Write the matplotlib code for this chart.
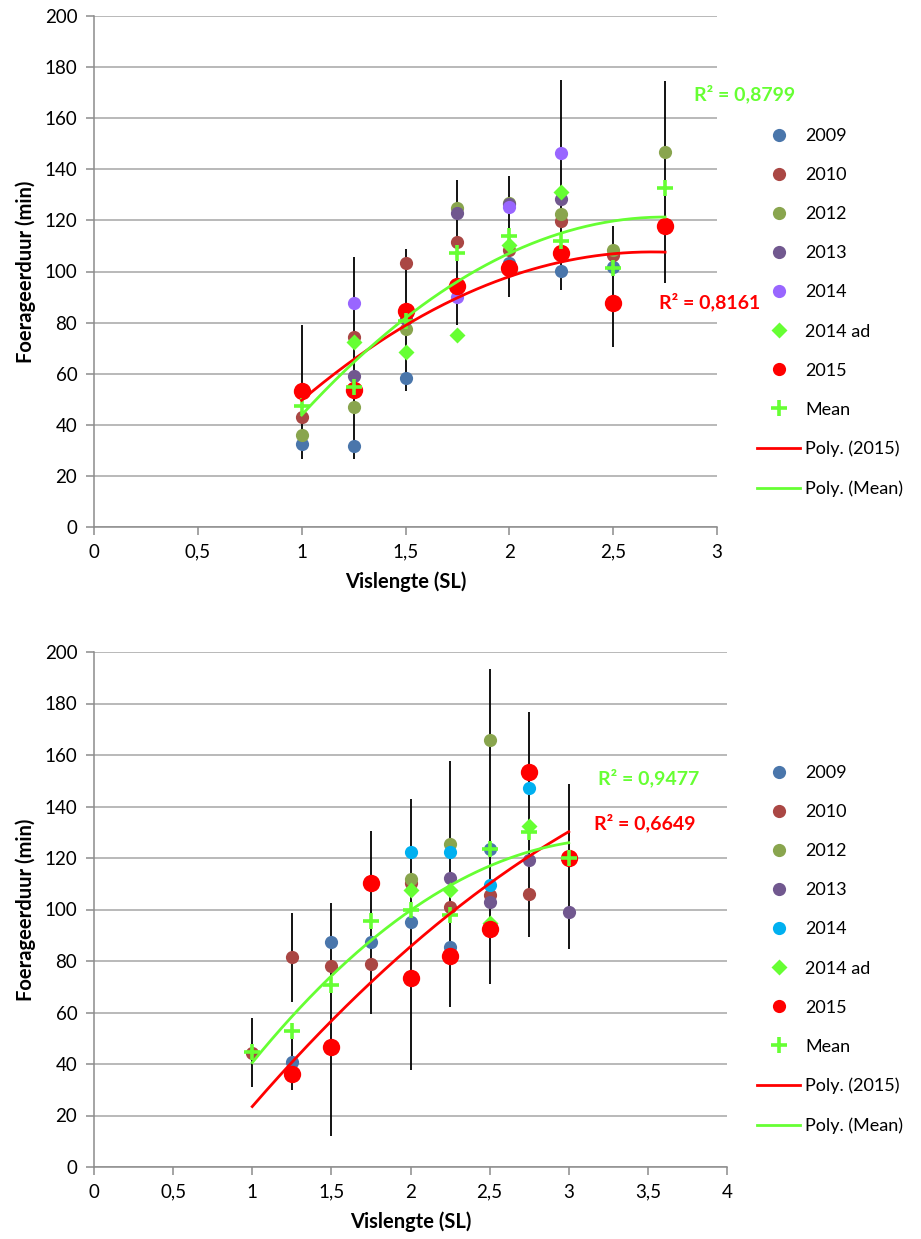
import numpy as np
import matplotlib
matplotlib.use("Agg")
import matplotlib.pyplot as plt
from matplotlib.lines import Line2D
from matplotlib.ticker import MultipleLocator, FuncFormatter

plt.rcParams['font.family'] = ['Lato', 'DejaVu Sans']

nan = np.nan

# upper panel: foraging time per fish length class
x_top = [1, 1.25, 1.5, 1.75, 2, 2.25, 2.5, 2.75]
top_2009 = [32.4, 31.8, 58.4, nan, 103.2, 100.2, 101.6, nan]
top_2010 = [43.2, 74.5, 103.5, 111.4, 108.4, 119.8, 106.5, nan]
top_2012 = [35.9, 46.8, 77.4, 124.7, 126.9, 122.4, 108.4, 146.9]
top_2013 = [nan, 59.0, 81.5, 122.8, 126.4, 128.3, nan, nan]
top_2014 = [nan, 87.8, nan, 89.9, 125.1, 146.3, nan, nan]
top_2014ad = [nan, 72.5, 68.6, 75.0, 110.4, 131.2, nan, nan]
top_2015 = [53.4, 53.6, 84.6, 94.5, 101.3, 107.1, 87.6, 117.9]
top_mean = [47.4, 54.7, 80.5, 107.1, 113.9, 111.9, 101.2, 132.6]
top_err_x = [1, 1.25, 1.5, 1.75, 2, 2.25, 2.5, 2.75]
top_err_lo = [26.5, 26.5, 53.3, 79.0, 90.1, 92.8, 70.4, 95.6]
top_err_hi = [79.0, 105.5, 109.0, 136.0, 137.4, 175.0, 117.8, 174.7]
top_r2_2015 = "R² = 0,8161"
top_r2_mean = "R² = 0,8799"

# lower panel
x_bot = [1, 1.25, 1.5, 1.75, 2, 2.25, 2.5, 2.75, 3]
bot_2009 = [nan, 40.9, 87.3, 87.3, 95.3, 85.6, 123.5, nan, nan]
bot_2010 = [44.4, 81.4, 78.1, 78.8, 110.4, 100.8, 105.6, 106.0, nan]
bot_2012 = [nan, nan, nan, nan, 111.8, 125.3, 165.8, nan, nan]
bot_2013 = [nan, nan, nan, nan, nan, 112.1, 102.8, 119.2, 99.1]
bot_2014 = [nan, nan, nan, nan, 122.5, 122.5, 109.5, 147.3, nan]
bot_2014ad = [nan, nan, nan, nan, 107.6, 107.6, 94.6, 132.5, nan]
bot_2015 = [nan, 36.1, 46.7, 110.4, 73.3, 81.9, 92.3, 153.5, 119.9]
bot_mean = [44.8, 52.8, 70.7, 95.7, 99.8, 97.9, 123.5, 130.2, 119.9]
bot_err_x = [1, 1.25, 1.25, 1.5, 1.75, 2, 2.25, 2.5, 2.75, 3]
bot_err_lo = [30.9, 64.2, 29.9, 12.0, 59.3, 37.7, 62.3, 71.1, 89.2, 84.5]
bot_err_hi = [57.7, 98.8, 50.6, 102.6, 130.5, 142.8, 157.7, 193.3, 176.8, 148.7]
bot_r2_2015 = "R² = 0,6649"
bot_r2_mean = "R² = 0,9477"

year_labels = ['2009', '2010', '2012', '2013', '2014', '2014 ad', '2015', 'Mean']
c_blue = '#4A76AB'
c_brown = '#AA4744'
c_olive = '#89A54E'
c_purple = '#71588F'
c_lime = '#66FF33'
c_red = '#FF0000'
grid_col = '#A6A6A6'


def comma(v, pos):
    s = ('%g' % v)
    return s.replace('.', ',')


def draw_panel(ax, x, series, col_2014, err, r2, xmax, fit_span, r2_pos, leg_anchor):
    x = np.array(x, dtype=float)
    ex, elo, ehi = err
    ax.vlines(ex, elo, ehi, color='black', lw=1.3, zorder=3)

    colors = [c_blue, c_brown, c_olive, c_purple, col_2014]
    for vals, col in zip(series[:5], colors):
        ax.plot(x, vals, 'o', ms=9.5, color=col, mec='none', zorder=4)
    ax.plot(x, series[5], 'D', ms=8.5, color=c_lime, mec='none', zorder=4)
    ax.plot(x, series[6], 'o', ms=12.5, color=c_red, mec='none', zorder=4)
    ax.plot(x, series[7], '+', ms=11, mew=2.6, color=c_lime, zorder=5)

    xs = np.linspace(fit_span[0], fit_span[1], 200)
    for vals, col in [(series[6], c_red), (series[7], c_lime)]:
        v = np.array(vals, dtype=float)
        ok = ~np.isnan(v)
        coef = np.polyfit(x[ok], v[ok], 2)
        ax.plot(xs, np.polyval(coef, xs), color=col, lw=2.0, zorder=6)

    ax.text(r2_pos[0][0], r2_pos[0][1], r2[0], color=c_red, fontsize=14,
            fontweight='bold', ha='left', va='center', zorder=7)
    ax.text(r2_pos[1][0], r2_pos[1][1], r2[1], color=c_lime, fontsize=14,
            fontweight='bold', ha='left', va='center', zorder=7)

    ax.set_xlim(0, xmax)
    ax.set_ylim(0, 200)
    ax.xaxis.set_major_locator(MultipleLocator(0.5))
    ax.yaxis.set_major_locator(MultipleLocator(20))
    ax.xaxis.set_major_formatter(FuncFormatter(comma))
    ax.yaxis.grid(True, color=grid_col, lw=1.1)
    ax.set_axisbelow(True)
    for s in ['top', 'right']:
        ax.spines[s].set_visible(False)
    for s in ['left', 'bottom']:
        ax.spines[s].set_color('#8C8C8C')
        ax.spines[s].set_linewidth(1.1)
    ax.tick_params(axis='both', direction='out', length=6, width=1.1,
                   color='#8C8C8C', labelsize=13.5, pad=6)
    ax.set_xlabel('Vislengte (SL)', fontsize=14.5, fontweight='bold', labelpad=8)
    ax.set_ylabel('Foerageerduur (min)', fontsize=14.5, fontweight='bold', labelpad=6)

    # legend keys all share one marker size
    keys = [Line2D([], [], ls='none', marker='o', ms=9.5, color=c, mec='none')
            for c in colors]
    keys.append(Line2D([], [], ls='none', marker='D', ms=8.5, color=c_lime, mec='none'))
    keys.append(Line2D([], [], ls='none', marker='o', ms=9.5, color=c_red, mec='none'))
    keys.append(Line2D([], [], ls='none', marker='+', ms=11, mew=2.6, color=c_lime))
    keys.append(Line2D([], [], color=c_red, lw=2.0))
    keys.append(Line2D([], [], color=c_lime, lw=2.0))
    labels = year_labels + ['Poly. (2015)', 'Poly. (Mean)']
    ax.figure.legend(keys, labels, loc='upper left',
                     bbox_to_anchor=leg_anchor, frameon=False, fontsize=13,
                     labelspacing=1.28, handlelength=2.4, handletextpad=0.28,
                     borderpad=0, borderaxespad=0)


W, H = 921, 1239
fig = plt.figure(figsize=(W / 100, H / 100), dpi=100)

ax1 = fig.add_axes([94 / W, 1 - 527 / H, (717 - 94) / W, (527 - 16) / H])
draw_panel(ax1, x_top,
           [top_2009, top_2010, top_2012, top_2013, top_2014, top_2014ad, top_2015, top_mean],
           '#9966FF', (top_err_x, top_err_lo, top_err_hi),
           (top_r2_2015, top_r2_mean), 3, (1, 2.75),
           ((2.72, 88), (2.89, 169.5)), (757 / W, 1 - 128 / H))

ax2 = fig.add_axes([94 / W, 1 - 1167 / H, (727 - 94) / W, (1167 - 652) / H])
draw_panel(ax2, x_bot,
           [bot_2009, bot_2010, bot_2012, bot_2013, bot_2014, bot_2014ad, bot_2015, bot_mean],
           '#00B0F0', (bot_err_x, bot_err_lo, bot_err_hi),
           (bot_r2_2015, bot_r2_mean), 4, (1, 3),
           ((3.16, 133.6), (3.185, 151)), (757 / W, 1 - 765 / H))

fig.savefig('out.png', dpi=100)
